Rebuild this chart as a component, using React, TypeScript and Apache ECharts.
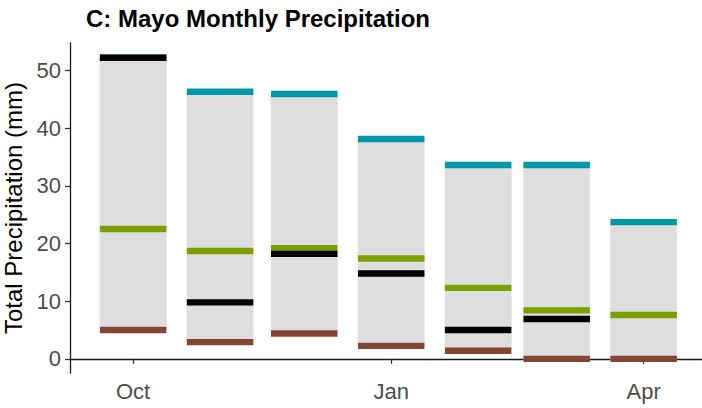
import React, { useEffect, useRef } from "react";
import * as echarts from "echarts";

// Monthly precipitation statistics for Mayo (mm)
const months = ["2020-10-01", "2020-11-01", "2020-12-01", "2021-01-01", "2021-02-01", "2021-03-01", "2021-04-01"];
const maxPrecip = [52.2, 46.3, 45.9, 38.1, 33.6, 33.6, 23.7];
const medianPrecip = [22.5, 18.7, 19.2, 17.4, 12.3, 8.4, 7.6];
const minPrecip = [5.0, 2.9, 4.4, 2.25, 1.4, 0.0, 0.0];
const observedPrecip: (number | null)[] = [52.2, 9.8, 18.2, 14.8, 5.0, 6.9, null];

// Axis ticks
const xTickDates = ["2020-10-01", "2021-01-01", "2021-04-01"];
const xTickLabels = ["Oct", "Jan", "Apr"];
const yTickValues = [0, 10, 20, 30, 40, 50];

const DAY = 24 * 3600 * 1000;
const BAR_DAYS = 23.7;
const FONT = "'Liberation Sans', Arial, Helvetica, sans-serif";

const ts = (d: string) => {
  const [y, m, dd] = d.split("-").map(Number);
  return Date.UTC(y, m - 1, dd);
};

export default function App() {
  const ref = useRef<HTMLDivElement>(null);

  useEffect(() => {
    if (!ref.current) return;
    const chart = echarts.init(ref.current, undefined, { renderer: "svg" });

    const monthTs = months.map(ts);
    const tickTs = xTickDates.map(ts);

    const rangeData = monthTs.map((t, i) => [t, minPrecip[i], maxPrecip[i]]);

    const rangeSeries = {
      type: "custom",
      data: rangeData,
      encode: { x: 0, y: [1, 2] },
      renderItem: (_params: any, api: any) => {
        const x = api.value(0);
        const top = api.coord([x, api.value(2)]);
        const bottom = api.coord([x, api.value(1)]);
        const w = api.size([BAR_DAYS * DAY, 0])[0];
        return {
          type: "rect",
          shape: { x: top[0] - w / 2, y: top[1], width: w, height: bottom[1] - top[1] },
          style: { fill: "#dedede", stroke: "#e8e8e8", lineWidth: 1 },
        };
      },
      z: 1,
    };

    const segmentSeries = (values: (number | null)[], color: string, z: number) => ({
      type: "custom",
      data: monthTs
        .map((t, i) => (values[i] == null ? null : [t, values[i]]))
        .filter((d) => d != null),
      encode: { x: 0, y: 1 },
      renderItem: (_params: any, api: any) => {
        const p = api.coord([api.value(0), api.value(1)]);
        const w = api.size([BAR_DAYS * DAY, 0])[0];
        return {
          type: "rect",
          shape: { x: p[0] - w / 2, y: p[1] - 3.2, width: w, height: 6.4 },
          style: { fill: color },
        };
      },
      z,
    });

    chart.setOption({
      animation: false,
      backgroundColor: "#ffffff",
      title: {
        text: "C: Mayo Monthly Precipitation",
        left: 81,
        top: 1,
        textStyle: { fontFamily: FONT, fontSize: 24, fontWeight: "bold", color: "#000000" },
      },
      grid: {
        left: 70,
        right: 0,
        top: 43,
        bottom: 35,
        containLabel: false,
        outerBoundsMode: "none",
      },
      xAxis: {
        type: "value",
        min: tickTs[0] - 22.5 * DAY,
        max: tickTs[2] + 20.8 * DAY,
        axisLine: { show: true, lineStyle: { color: "#1a1a1a", width: 1.3 } },
        axisTick: {
          show: true,
          customValues: tickTs,
          length: 5,
          lineStyle: { color: "#333333", width: 1.3 },
        },
        axisLabel: {
          customValues: tickTs,
          formatter: (v: number) => {
            const i = tickTs.findIndex((t) => Math.abs(t - v) < DAY);
            return i >= 0 ? xTickLabels[i] : "";
          },
          fontFamily: FONT,
          fontSize: 22,
          color: "#4d4d4d",
          margin: 7,
        },
        splitLine: { show: false },
      },
      yAxis: {
        type: "value",
        min: -2.45,
        max: 54.75,
        name: "Total Precipitation (mm)",
        nameLocation: "middle",
        nameGap: 38,
        nameTextStyle: { fontFamily: FONT, fontSize: 24, color: "#000000" },
        axisLine: { show: true, lineStyle: { color: "#1a1a1a", width: 1.3 } },
        axisTick: {
          show: true,
          customValues: yTickValues,
          length: 5,
          lineStyle: { color: "#333333", width: 1.3 },
        },
        axisLabel: {
          customValues: yTickValues,
          fontFamily: FONT,
          fontSize: 22,
          color: "#4d4d4d",
          margin: 9,
        },
        splitLine: { show: false },
      },
      series: [
        rangeSeries,
        segmentSeries(minPrecip, "#854534", 2),
        segmentSeries(medianPrecip, "#7e9f00", 3),
        segmentSeries(maxPrecip, "#0099a8", 4),
        segmentSeries(observedPrecip, "#000000", 5),
      ],
    });

    return () => chart.dispose();
  }, []);

  return (
    <div
      ref={ref}
      style={{ position: "fixed", left: 0, top: 0, width: 702, height: 408 }}
    />
  );
}
